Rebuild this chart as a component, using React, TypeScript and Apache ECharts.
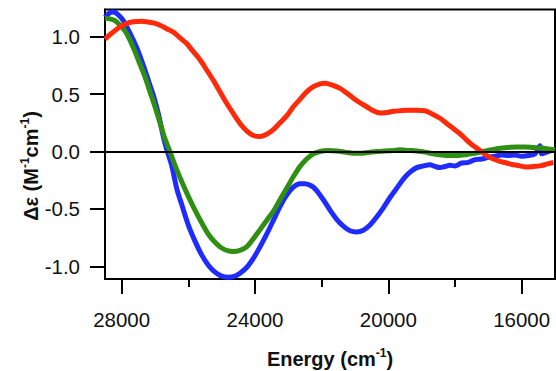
import React, { useEffect, useRef } from "react";
import * as echarts from "echarts";

const xMin = 15000;
const xMax = 28500;
const yMin = -1.11;
const yMax = 1.237;
const xTickValues = [28000, 24000, 20000, 16000];
const xMinorTickValues = [26000, 22000, 18000];
const yTickValues = [-1, -0.5, 0, 0.5, 1];

const redEnergy = [28500, 28300, 28050, 27800, 27650, 27400, 27250, 27050, 26850, 26650, 26450, 26250, 26050, 25850, 25650, 25450, 25250, 25050, 24850, 24650, 24450, 24250, 24050, 23850, 23650, 23450, 23250, 23050, 22850, 22650, 22450, 22250, 22050, 21900, 21700, 21450, 21250, 21050, 20850, 20650, 20450, 20250, 20050, 19850, 19650, 19400, 19150, 18900, 18700, 18450, 18250, 18050, 17850, 17650, 17450, 17250, 17050, 16850, 16650, 16450, 16250, 16050, 15850, 15650, 15450, 15250, 15050];
const redValue = [0.98, 1.03, 1.085, 1.12, 1.13, 1.135, 1.13, 1.12, 1.1, 1.07, 1.04, 0.99, 0.94, 0.87, 0.8, 0.71, 0.62, 0.52, 0.42, 0.33, 0.245, 0.18, 0.14, 0.13, 0.15, 0.19, 0.25, 0.31, 0.39, 0.455, 0.52, 0.565, 0.59, 0.595, 0.58, 0.55, 0.51, 0.465, 0.425, 0.39, 0.355, 0.335, 0.34, 0.35, 0.355, 0.36, 0.36, 0.355, 0.33, 0.29, 0.245, 0.2, 0.155, 0.1, 0.05, 0.01, -0.035, -0.065, -0.085, -0.1, -0.115, -0.125, -0.135, -0.13, -0.125, -0.11, -0.095];

const blueEnergy = [28500, 28350, 28250, 28100, 27950, 27800, 27650, 27500, 27350, 27200, 27050, 26900, 26750, 26650, 26500, 26350, 26200, 26000, 25800, 25600, 25400, 25200, 25000, 24800, 24600, 24450, 24250, 24050, 23850, 23650, 23450, 23250, 23050, 22850, 22650, 22500, 22300, 22150, 21950, 21750, 21550, 21350, 21150, 20950, 20750, 20550, 20350, 20150, 19950, 19750, 19550, 19350, 19150, 18950, 18750, 18600, 18450, 18300, 18150, 18000, 17800, 17600, 17400, 17200, 17000, 16800, 16600, 16400, 16200, 16000, 15800, 15600, 15450, 15400, 15200, 15050];
const blueValue = [1.17, 1.21, 1.215, 1.19, 1.14, 1.06, 0.97, 0.87, 0.75, 0.62, 0.49, 0.33, 0.13, 0.02, -0.12, -0.32, -0.46, -0.64, -0.78, -0.9, -0.99, -1.05, -1.085, -1.095, -1.085, -1.06, -1.01, -0.93, -0.83, -0.72, -0.6, -0.48, -0.38, -0.31, -0.28, -0.28, -0.3, -0.34, -0.42, -0.51, -0.59, -0.65, -0.69, -0.7, -0.685, -0.64, -0.57, -0.49, -0.4, -0.32, -0.24, -0.18, -0.14, -0.125, -0.115, -0.13, -0.14, -0.13, -0.12, -0.125, -0.1, -0.095, -0.07, -0.065, -0.05, -0.04, -0.03, -0.035, -0.03, -0.04, -0.035, -0.02, 0.05, -0.02, 0.0, 0.01];

const greenEnergy = [28500, 28350, 28200, 28050, 27900, 27750, 27600, 27450, 27300, 27150, 27000, 26850, 26700, 26550, 26400, 26200, 26000, 25800, 25600, 25400, 25200, 25000, 24800, 24650, 24450, 24250, 24050, 23850, 23650, 23450, 23250, 23050, 22850, 22650, 22450, 22250, 22050, 21800, 21550, 21300, 21050, 20850, 20600, 20350, 20100, 19850, 19650, 19400, 19150, 18900, 18650, 18400, 18150, 17900, 17650, 17400, 17150, 16900, 16650, 16400, 16150, 15900, 15650, 15400, 15150, 15000];
const greenValue = [1.16, 1.155, 1.14, 1.1, 1.05, 0.97, 0.87, 0.76, 0.65, 0.52, 0.39, 0.25, 0.11, 0.0, -0.12, -0.26, -0.39, -0.51, -0.62, -0.72, -0.79, -0.84, -0.865, -0.87, -0.86, -0.83, -0.76, -0.68, -0.6, -0.52, -0.42, -0.32, -0.22, -0.13, -0.065, -0.02, 0.0, 0.008, 0.005, -0.005, -0.015, -0.015, -0.008, 0.0, 0.005, 0.01, 0.015, 0.01, 0.005, -0.005, -0.02, -0.03, -0.035, -0.035, -0.025, -0.015, 0.0, 0.015, 0.028, 0.035, 0.04, 0.04, 0.035, 0.03, 0.02, 0.015];

const pair = (xs: number[], ys: number[]) => xs.map((x, i) => [x, ys[i]]);

const FONT = "'Liberation Sans', Arial, sans-serif";

export default function App() {
  const ref = useRef<HTMLDivElement>(null);
  useEffect(() => {
    if (!ref.current) return;
    const chart = echarts.init(ref.current, null, { renderer: "svg" });
    const lineSeries = (name: string, data: number[][], color: string, extra: any = {}) => ({
      name,
      type: "line",
      data,
      smooth: 0.3,
      showSymbol: false,
      symbol: "none",
      clip: false,
      lineStyle: { color, width: 5 },
      ...extra,
    });
    chart.setOption({
      animation: false,
      backgroundColor: "#fff",
      grid: {
        left: 105,
        right: 1,
        top: 9.5,
        bottom: 92,
        show: true,
        borderColor: "#000",
        borderWidth: 2,
        backgroundColor: "transparent",
        outerBoundsMode: "none",
      },
      xAxis: [
        {
          type: "value",
          min: xMin,
          max: xMax,
          inverse: true,
          position: "bottom",
          axisLine: { show: true, onZero: false, lineStyle: { color: "#000", width: 2 } },
          axisTick: { show: true, customValues: xTickValues, length: 15, lineStyle: { color: "#000", width: 2 } },
          axisLabel: {
            customValues: xTickValues,
            margin: 30,
            fontFamily: FONT,
            fontSize: 20.5,
            color: "#111",
            formatter: (v: number) => String(v),
          },
          splitLine: { show: false },
        },
        {
          type: "value",
          min: xMin,
          max: xMax,
          inverse: true,
          position: "bottom",
          gridIndex: 0,
          axisLine: { show: false, onZero: false },
          axisTick: { show: true, customValues: xMinorTickValues, length: 8, lineStyle: { color: "#000", width: 2 } },
          axisLabel: { show: false },
          splitLine: { show: false },
        },
      ],
      yAxis: {
        type: "value",
        min: yMin,
        max: yMax,
        axisLine: { show: true, onZero: false, lineStyle: { color: "#000", width: 2 } },
        axisTick: { show: true, customValues: yTickValues, length: 15, lineStyle: { color: "#000", width: 2 } },
        axisLabel: {
          customValues: yTickValues,
          margin: 25,
          fontFamily: FONT,
          fontSize: 20.5,
          color: "#111",
          formatter: (v: number) => v.toFixed(1),
        },
        splitLine: { show: false },
      },
      graphic: [
        {
          type: "text",
          x: 330,
          y: 359,
          style: {
            text: "{m|Energy (cm}{s|-1}{m|)}",
            align: "center",
            verticalAlign: "middle",
            textAlign: "center",
            textVerticalAlign: "middle",
            rich: {
              m: { fontFamily: FONT, fontSize: 20, fontWeight: "bold", fill: "#111", color: "#111", lineHeight: 24 },
              s: { fontFamily: FONT, fontSize: 12, fontWeight: "bold", fill: "#111", color: "#111", lineHeight: 12, verticalAlign: "top" },
            },
          },
        },
        {
          type: "text",
          x: 31,
          y: 166,
          rotation: Math.PI / 2,
          style: {
            text: "{m|Δε (M}{s|-1}{m|cm}{s|-1}{m|)}",
            align: "center",
            verticalAlign: "middle",
            textAlign: "center",
            textVerticalAlign: "middle",
            rich: {
              m: { fontFamily: FONT, fontSize: 20, fontWeight: "bold", fill: "#111", color: "#111", lineHeight: 24 },
              s: { fontFamily: FONT, fontSize: 12, fontWeight: "bold", fill: "#111", color: "#111", lineHeight: 12, verticalAlign: "top" },
            },
          },
        },
      ],
      series: [
        lineSeries("blue", pair(blueEnergy, blueValue), "#1f2cff", {
          markLine: {
            silent: true,
            symbol: ["none", "none"],
            label: { show: false },
            lineStyle: { color: "#000", width: 2, type: "solid" },
            data: [{ yAxis: 0 }],
          },
        }),
        lineSeries("green", pair(greenEnergy, greenValue), "#2f8f12"),
        lineSeries("red", pair(redEnergy, redValue), "#ff2a0a"),
      ],
    });
    return () => chart.dispose();
  }, []);
  return <div ref={ref} style={{ width: 556, height: 371, position: "absolute", left: 0, top: 0 }} />;
}
